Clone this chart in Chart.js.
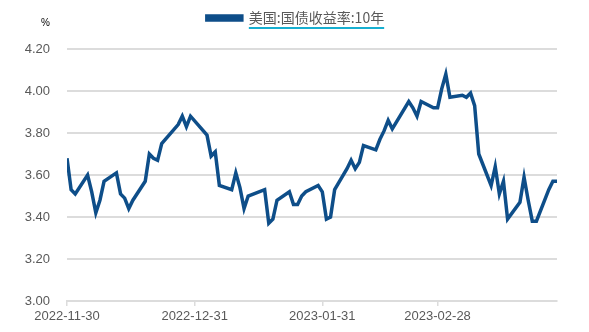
<!DOCTYPE html>
<html>
<head>
<meta charset="utf-8">
<script src="https://cdn.jsdelivr.net/npm/chart.js@4/dist/chart.umd.min.js"></script>
<style>
    html, body { margin: 0; padding: 0; background: #fff; }
    #wrap { width: 589px; height: 332px; }
</style>
</head>
<body>
<div id="wrap"><canvas id="graphique"></canvas></div>
<script>
// données : rendement des bons du Trésor US 10 ans (jours ouvrés)
const dates = [
    '2022-11-30', '2022-12-01', '2022-12-02', '2022-12-05', '2022-12-06', '2022-12-07', '2022-12-08', '2022-12-09',
    '2022-12-12', '2022-12-13', '2022-12-14', '2022-12-15', '2022-12-16', '2022-12-19', '2022-12-20', '2022-12-21',
    '2022-12-22', '2022-12-23', '2022-12-27', '2022-12-28', '2022-12-29', '2022-12-30',
    '2023-01-03', '2023-01-04', '2023-01-05', '2023-01-06', '2023-01-09', '2023-01-10', '2023-01-11', '2023-01-12',
    '2023-01-13', '2023-01-17', '2023-01-18', '2023-01-19', '2023-01-20', '2023-01-23', '2023-01-24', '2023-01-25',
    '2023-01-26', '2023-01-27', '2023-01-30', '2023-01-31',
    '2023-02-01', '2023-02-02', '2023-02-03', '2023-02-06', '2023-02-07', '2023-02-08', '2023-02-09', '2023-02-10',
    '2023-02-13', '2023-02-14', '2023-02-15', '2023-02-16', '2023-02-17', '2023-02-21', '2023-02-22', '2023-02-23',
    '2023-02-24', '2023-02-27', '2023-02-28',
    '2023-03-01', '2023-03-02', '2023-03-03', '2023-03-06', '2023-03-07', '2023-03-08', '2023-03-09', '2023-03-10',
    '2023-03-13', '2023-03-14', '2023-03-15', '2023-03-16', '2023-03-17', '2023-03-20', '2023-03-21', '2023-03-22',
    '2023-03-23', '2023-03-24', '2023-03-27', '2023-03-28', '2023-03-29'
];
const rendements = [
    3.68, 3.53, 3.51, 3.60, 3.52, 3.42, 3.48, 3.57,
    3.61, 3.51, 3.49, 3.44, 3.48, 3.57, 3.70, 3.68,
    3.67, 3.75, 3.84, 3.88, 3.83, 3.88,
    3.79, 3.69, 3.71, 3.55, 3.53, 3.61, 3.54, 3.44,
    3.50, 3.53, 3.37, 3.39, 3.48, 3.52, 3.46, 3.46,
    3.50, 3.52, 3.55, 3.52,
    3.39, 3.40, 3.53, 3.63, 3.67, 3.63, 3.66, 3.74,
    3.72, 3.77, 3.81, 3.86, 3.82, 3.95, 3.92, 3.88,
    3.95, 3.92, 3.92,
    4.01, 4.08, 3.97, 3.98, 3.97, 3.99, 3.93, 3.70,
    3.55, 3.64, 3.51, 3.57, 3.39, 3.47, 3.59, 3.48,
    3.38, 3.38, 3.53, 3.57, 3.57
];
const tickLabels = ['2022-11-30', '2022-12-31', '2023-01-31', '2023-02-28'];
const serieNom = '美国:国债收益率:10年';
const uniteY = '%';

const debut = Date.parse(dates[0]);
function jour(d) {
    return Math.round((Date.parse(d) - debut) / 86400000);
}
const points = dates.map((d, i) => ({ x: jour(d), y: rendements[i] }));
const tickDays = tickLabels.map(jour);

const couleurLigne = '#0e4e89';
const couleurGrille = '#dcdcdc';
const couleurTexte = '#595959';

// légende : hauteur fixe (zone graphique à y=49) et centrée sur le canvas
const legendePosition = {
    id: 'legendePosition',
    beforeInit(chart) {
        const fitOrig = chart.legend.fit;
        chart.legend.fit = function () {
            fitOrig.call(this);
            this.height = 49;
        };
    },
    afterLayout(chart) {
        chart.legend.left = 34;
    }
};

// soulignement de la légende + unité "%"
const decor = {
    id: 'decor',
    afterDraw(chart) {
        const ctx = chart.ctx;
        const lg = chart.legend;
        if (lg && lg.legendHitBoxes.length) {
            const hb = lg.legendHitBoxes[0];
            const opts = lg.options.labels;
            const x0 = hb.left + opts.boxWidth + opts.font.size / 2;
            ctx.save();
            ctx.font = opts.font.size + 'px ' + opts.font.family;
            const w = ctx.measureText(serieNom).width;
            ctx.strokeStyle = '#17afd0';
            ctx.lineWidth = 2;
            ctx.beginPath();
            ctx.moveTo(x0, 28);
            ctx.lineTo(x0 + w, 28);
            ctx.stroke();
            ctx.restore();
        }
        ctx.save();
        ctx.font = '10px "Liberation Sans", Arial, sans-serif';
        ctx.fillStyle = '#000';
        ctx.textAlign = 'right';
        ctx.textBaseline = 'middle';
        ctx.fillText(uniteY, 50, 23);
        ctx.restore();
    }
};

const ctx = document.getElementById('graphique').getContext('2d');
new Chart(ctx, {
    type: 'line',
    data: {
        datasets: [{
            label: serieNom,
            data: points,
            borderColor: couleurLigne,
            backgroundColor: couleurLigne,
            borderWidth: 3.5,
            pointRadius: 0,
            fill: false,
            tension: 0
        }]
    },
    options: {
        responsive: true,
        maintainAspectRatio: false,
        animation: false,
        layout: { padding: { left: 0, right: 32, top: 0, bottom: 0 } },
        plugins: {
            legend: {
                display: true,
                position: 'top',
                labels: {
                    boxWidth: 35,
                    boxHeight: 4,
                    padding: 11,
                    color: couleurTexte,
                    font: { size: 14, family: '"Noto Sans CJK SC", sans-serif' }
                }
            },
            tooltip: { enabled: false }
        },
        scales: {
            x: {
                type: 'linear',
                min: 0,
                max: jour(dates[dates.length - 1]),
                afterBuildTicks: axis => {
                    axis.ticks = tickDays.map(v => ({ value: v }));
                },
                afterFit: scale => { scale.height = 31; },
                ticks: {
                    autoSkip: false,
                    maxRotation: 0,
                    padding: 3,
                    color: couleurTexte,
                    font: { size: 13, family: '"Liberation Sans", Arial, sans-serif' },
                    callback: value => tickLabels[tickDays.indexOf(value)]
                },
                grid: {
                    display: true,
                    drawOnChartArea: false,
                    drawTicks: true,
                    tickLength: 5,
                    color: couleurGrille,
                    lineWidth: 1.5
                },
                border: { display: true, color: couleurGrille, width: 2 }
            },
            y: {
                min: 3.0,
                max: 4.2,
                afterFit: scale => { scale.width = 67; },
                ticks: {
                    stepSize: 0.2,
                    padding: 17,
                    color: couleurTexte,
                    font: { size: 13, family: '"Liberation Sans", Arial, sans-serif' },
                    callback: value => value.toFixed(2)
                },
                grid: {
                    color: couleurGrille,
                    lineWidth: 2,
                    drawTicks: false
                },
                border: { display: false }
            }
        }
    },
    plugins: [legendePosition, decor]
});
</script>
</body>
</html>
